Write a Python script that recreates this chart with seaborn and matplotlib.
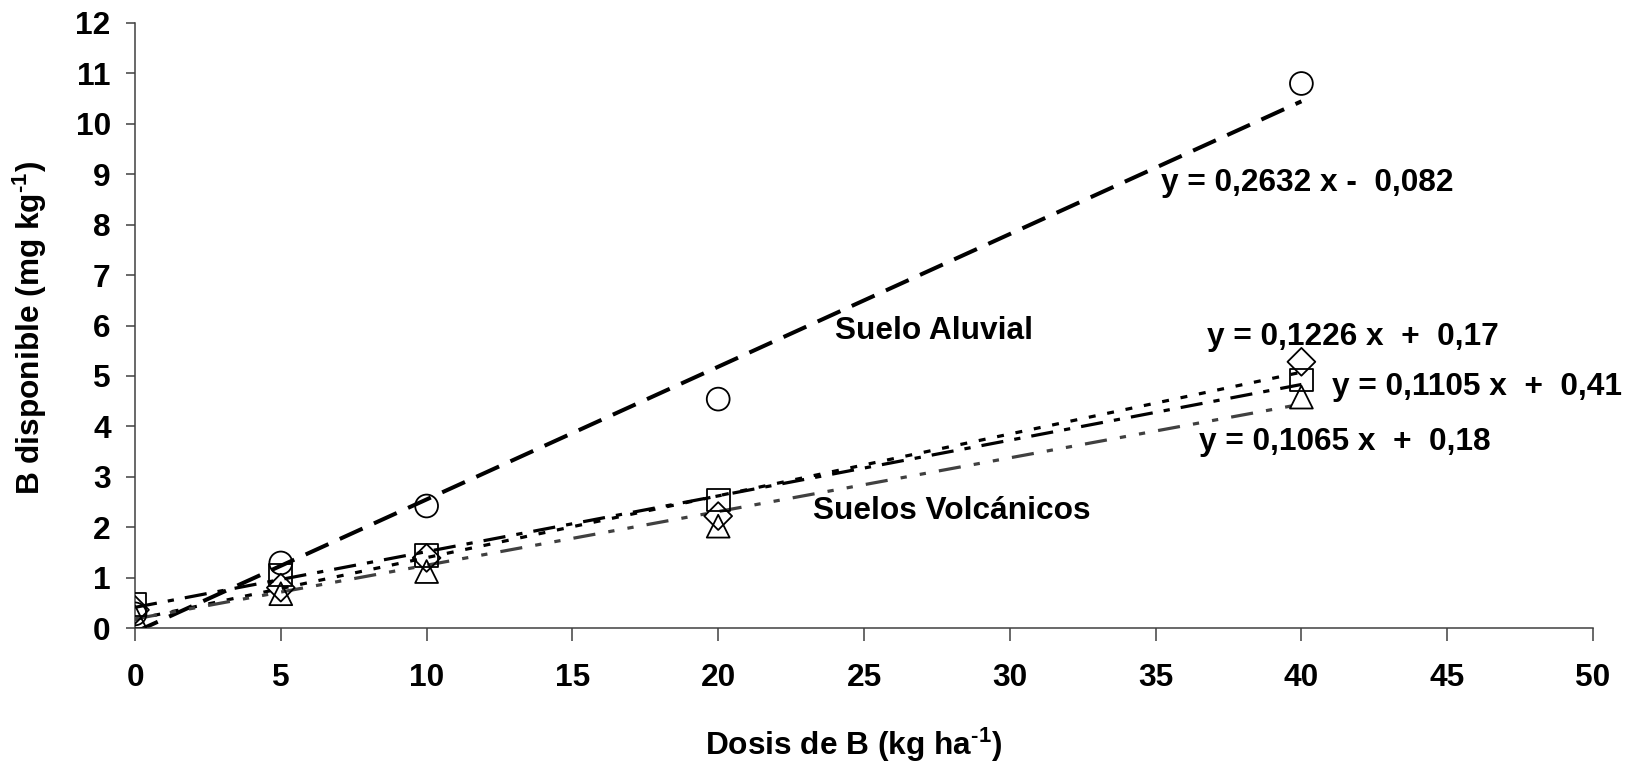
import matplotlib
matplotlib.use("Agg")
import matplotlib.pyplot as plt
import seaborn as sns
import numpy as np

# Boron rates applied (kg/ha)
dosis = [0, 5, 10, 20, 40]

# Available B measured (mg/kg) per soil
aluvial = [0.28, 1.29, 2.42, 4.54, 10.8]
volc_cuadro = [0.46, 1.05, 1.43, 2.54, 4.92]
volc_rombo = [0.36, 0.80, 1.39, 2.22, 5.28]
volc_triangulo = [0.22, 0.68, 1.12, 2.02, 4.58]

# Linear fits (slope, intercept) and their printed equations
pendientes = [0.2632, 0.1226, 0.1105, 0.1065]
interceptos = [-0.082, 0.17, 0.41, 0.18]
ecuaciones = ["y = 0,2632 x -  0,082", "y = 0,1226 x  +  0,17",
              "y = 0,1105 x  +  0,41", "y = 0,1065 x  +  0,18"]
rango_ajuste = [0, 40]

x_ticks = [0, 5, 10, 15, 20, 25, 30, 35, 40, 45, 50]
y_ticks = list(range(0, 13))

sns.set_theme(style="ticks")
plt.rcParams["font.family"] = ["Liberation Sans", "DejaVu Sans"]
plt.rcParams["font.weight"] = "bold"
plt.rcParams["text.color"] = "black"
plt.rcParams["axes.labelcolor"] = "black"
plt.rcParams["mathtext.fontset"] = "custom"
plt.rcParams["mathtext.rm"] = "Liberation Sans:bold"
plt.rcParams["mathtext.bf"] = "Liberation Sans:bold"
plt.rcParams["mathtext.default"] = "bf"
plt.rcParams["lines.scale_dashes"] = False

FS = 22.8
fig = plt.figure(figsize=(16.34, 7.65), dpi=100)
ax = fig.add_axes([135 / 1634, 1 - 628 / 765, 1458 / 1634, 605 / 765])

# Trend lines from the fitted equations
estilos = [
    dict(color="black", lw=2.9, linestyle=(0, (18, 9))),
    dict(color="black", lw=2.3, linestyle=(0, (5, 8.5))),
    dict(color="black", lw=2.3, linestyle=(0, (16, 8, 4.5, 8))),
    dict(color="#404040", lw=2.3, linestyle=(0, (16, 9.5, 4.5, 9.5, 4.5, 9.5))),
]
xs = np.array(rango_ajuste, dtype=float)
for m, b, st in zip(pendientes, interceptos, estilos):
    sns.lineplot(x=xs, y=m * xs + b, ax=ax, estimator=None,
                 solid_capstyle="butt", dash_capstyle="butt", zorder=2, **st)

# Measured points (hollow markers)
series = [
    (aluvial, "o", 270),
    (volc_cuadro, "s", 270),
    (volc_rombo, "D", 200),
    (volc_triangulo, "^", 270),
]
for vals, mk, s in series:
    sns.scatterplot(x=dosis, y=vals, ax=ax, marker=mk, s=s,
                    facecolors="none", edgecolor="black", linewidth=1.3,
                    zorder=3)

# Annotations
txt = dict(fontsize=FS, fontweight="bold", va="center", ha="left", color="black")
ax.text(24.0, 5.9, "Suelo Aluvial", **txt)
ax.text(23.25, 2.32, "Suelos Volcánicos", **txt)
pos_ec = [(35.2, 8.83), (36.76, 5.77), (41.05, 4.78), (36.5, 3.69)]
for (px, py), e in zip(pos_ec, ecuaciones):
    ax.text(px, py, e, **txt)

ax.set_xlim(0, 50)
ax.set_ylim(0, 12)
ax.set_xticks(x_ticks)
ax.set_yticks(y_ticks)
ax.set_xticklabels([str(v) for v in x_ticks], fontsize=FS, fontweight="bold")
ax.set_yticklabels([str(v) for v in y_ticks], fontsize=FS, fontweight="bold")
ax.tick_params(axis="x", direction="out", length=9.5, width=1.1, colors="#404040",
               labelcolor="black", pad=16)
ax.tick_params(axis="y", direction="out", length=6.5, width=1.1, colors="#404040",
               labelcolor="black", pad=11)

for side in ["top", "right"]:
    ax.spines[side].set_visible(False)
for side in ["left", "bottom"]:
    ax.spines[side].set_color("#404040")
    ax.spines[side].set_linewidth(1.1)

ax.set_xlabel(r"Dosis de B (kg ha$^{\text{-1}}$)", fontsize=FS, fontweight="bold",
              color="black")
ax.set_ylabel(r"B disponible (mg kg$^{\text{-1}}$)", fontsize=FS, fontweight="bold",
              color="black")
ax.xaxis.set_label_coords(0.493, -0.162)
ax.yaxis.set_label_coords(-0.072, 0.496)
ax.yaxis.label.set_va("center")
ax.xaxis.label.set_va("top")

fig.savefig("out.png", dpi=100, facecolor="white")
